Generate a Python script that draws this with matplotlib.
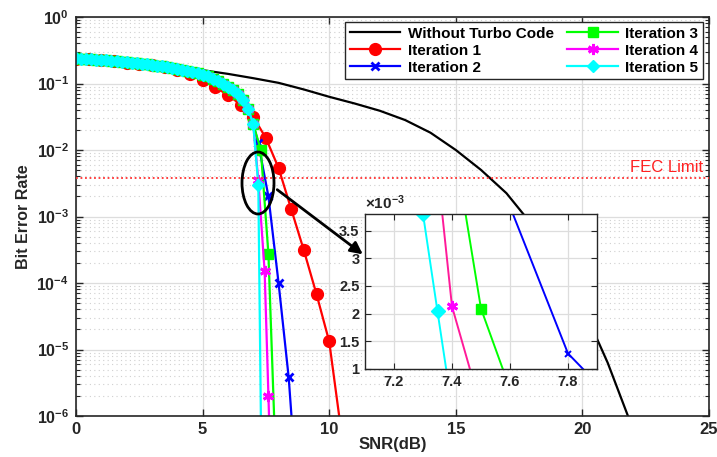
import numpy as np
import matplotlib
matplotlib.use('Agg')
import matplotlib.pyplot as plt
from matplotlib.patches import Ellipse, FancyArrowPatch
from matplotlib.ticker import LogLocator, NullFormatter, FixedLocator

plt.rcParams['font.family'] = ['Liberation Sans', 'DejaVu Sans']
plt.rcParams['font.weight'] = 'bold'
plt.rcParams['mathtext.fontset'] = 'custom'
plt.rcParams['mathtext.rm'] = 'Liberation Sans:bold'
plt.rcParams['mathtext.bf'] = 'Liberation Sans:bold'
plt.rcParams['mathtext.it'] = 'Liberation Sans:bold:italic'

# ---------------- data ----------------
snr_uncoded = [0, 1, 2, 3, 4, 5, 6, 7, 8, 9, 10, 11, 12, 13, 14, 15, 16, 17, 18, 19, 20, 21, 22]
ber_uncoded = [0.235, 0.221, 0.2065, 0.1905, 0.1738, 0.1585, 0.1396, 0.1202, 0.1023, 0.0813,
               0.0631, 0.0501, 0.0389, 0.0282, 0.0182, 0.0100, 5.0e-3, 2.24e-3, 7.6e-4,
               2.0e-4, 4.5e-5, 6.3e-6, 6.3e-7]

snr_it1 = [0, 0.5, 1, 1.5, 2, 2.5, 3, 3.5, 4, 4.5, 5, 5.5, 6, 6.5, 7, 7.5, 8, 8.5, 9, 9.5, 10, 10.5]
ber_it1 = [0.2371, 0.2301, 0.2228, 0.2153, 0.2065, 0.1972, 0.1871, 0.1750, 0.1603, 0.1396,
           0.1122, 0.0871, 0.0676, 0.0479, 0.0316, 0.0151, 5.37e-3, 1.29e-3, 3.09e-4,
           6.76e-5, 1.32e-5, 5.0e-7]

# common low-SNR part shared by iterations 2-5
snr_common = [0.0, 0.2, 0.4, 0.6, 0.8, 1.0, 1.2, 1.4, 1.6, 1.8, 2.0, 2.2, 2.4, 2.6, 2.8, 3.0,
              3.2, 3.4, 3.6, 3.8, 4.0, 4.2, 4.4, 4.6, 4.8, 5.0, 5.2, 5.4, 5.6, 5.8, 6.0, 6.2,
              6.4, 6.6, 6.8, 7.0]
ber_common = [0.2399, 0.2371, 0.2344, 0.2312, 0.2280, 0.2249, 0.2218, 0.2188, 0.2153, 0.2118,
              0.2084, 0.2046, 0.2009, 0.1972, 0.1932, 0.1892, 0.1849, 0.1803, 0.1758, 0.1710,
              0.1660, 0.1607, 0.1552, 0.1493, 0.1429, 0.1361, 0.1288, 0.1175, 0.1084, 0.0989,
              0.0891, 0.0794, 0.0684, 0.0562, 0.0417, 0.0245]

snr_it2_tail = [7.2, 7.6, 8.0, 8.4, 8.8]
ber_it2_tail = [1.26e-2, 2.0e-3, 1.0e-4, 3.8e-6, 3.0e-8]
snr_it3_tail = [7.3, 7.6, 7.9]
ber_it3_tail = [1.0e-2, 2.7e-4, 1.5e-7]
snr_it4_tail = [7.2, 7.45, 7.6, 7.7]
ber_it4_tail = [3.5e-3, 1.5e-4, 2.0e-6, 1.0e-7]
snr_it5_tail = [7.2, 7.33]
ber_it5_tail = [3.0e-3, 1.0e-7]

fec_limit = 3.8e-3

# zoomed inset data
inset_snr_it2 = [7.5, 7.8, 7.9]
inset_ber_it2 = [5.26e-3, 1.28e-3, 0.74e-3]
inset_snr_it3 = [7.4, 7.5, 7.6]
inset_ber_it3 = [5.3e-3, 2.09e-3, 0.64e-3]
inset_snr_it4 = [7.3, 7.4, 7.5]
inset_ber_it4 = [7.1e-3, 2.13e-3, 0.3e-3]
inset_snr_it5 = [7.25, 7.3, 7.35, 7.4]
inset_ber_it5 = [6.5e-3, 3.8e-3, 2.04e-3, 0.3e-3]

labels = ['Without Turbo Code', 'Iteration 1', 'Iteration 2', 'Iteration 3',
          'Iteration 4', 'Iteration 5']
xticks = [0, 5, 10, 15, 20, 25]
inset_xticks = [7.2, 7.4, 7.6, 7.8]
inset_yticks = [1.0, 1.5, 2.0, 2.5, 3.0, 3.5]

# ---------------- figure ----------------
W, H = 717, 457
fig = plt.figure(figsize=(W / 100, H / 100), dpi=100)
ax = fig.add_axes([76 / W, 41 / H, 633 / W, 399 / H])

lw = 1.6
asterisk = (6, 2, 0)
ax.plot(snr_uncoded, ber_uncoded, '-', color='k', lw=lw, label=labels[0])
ax.plot(snr_it1, ber_it1, '-o', color='r', lw=lw, ms=8.5, mfc='r', mec='r', label=labels[1])
ax.plot(snr_common + snr_it2_tail, ber_common + ber_it2_tail, '-x', color='b', lw=lw,
        ms=6, mew=2, label=labels[2])
ax.plot(snr_common + snr_it3_tail, ber_common + ber_it3_tail, '-s', color='#00ff00', lw=lw,
        ms=7, label=labels[3])
ax.plot(snr_common + snr_it4_tail, ber_common + ber_it4_tail, '-', marker=asterisk,
        color='#ff00ff', lw=lw, ms=8, mew=2, label=labels[4])
ax.plot(snr_common + snr_it5_tail, ber_common + ber_it5_tail, '-D', color='#00ffff', lw=lw,
        ms=6.5, label=labels[5])

ax.axhline(fec_limit, color='#ff3030', ls=(0, (1, 1.5)), lw=1.3, zorder=5)
ax.text(24.75, 5.55e-3, 'FEC Limit', color='#ff2020', fontsize=12, fontweight='normal',
        ha='right', va='center')

ax.set_yscale('log')
ax.set_xlim(0, 25)
ax.set_ylim(1e-6, 1)
ax.set_xticks(xticks)
ax.set_xticklabels([str(t) for t in xticks])
yt = [1e-6, 1e-5, 1e-4, 1e-3, 1e-2, 1e-1, 1]
ax.yaxis.set_major_locator(FixedLocator(yt))
ax.set_yticklabels([r'$\mathbf{10^{%d}}$' % int(round(np.log10(v))) for v in yt])
ax.yaxis.set_minor_locator(LogLocator(base=10, subs=np.arange(2, 10), numticks=20))
ax.yaxis.set_minor_formatter(NullFormatter())

ax.grid(True, which='major', color='#dddddd', lw=0.9, ls='-')
ax.grid(True, which='minor', axis='y', color='#d0d0d0', lw=0.8, ls=(0, (1, 3)))
ax.set_axisbelow(True)
ax.tick_params(which='both', direction='in', top=True, right=True, colors='#262626',
               labelcolor='#262626')
ax.tick_params(which='major', length=5, width=1, labelsize=11.5, pad=5)
ax.tick_params(axis='x', which='major', labelsize=12, pad=4)
ax.tick_params(which='minor', length=3, width=0.8)
for s in ax.spines.values():
    s.set_color('#262626')
    s.set_linewidth(1.2)

ax.set_xlabel('SNR(dB)', fontsize=12, fontweight='bold', color='#262626', labelpad=0)
ax.set_ylabel('Bit Error Rate', fontsize=11.5, fontweight='bold', color='#262626', labelpad=4)

leg = ax.legend(ncol=2, loc='upper right', bbox_to_anchor=(0.9905, 0.9875), borderaxespad=0,
                prop={'weight': 'bold', 'size': 11}, fancybox=False,
                edgecolor='#262626', framealpha=1, handlelength=3.3, labelspacing=0.2,
                columnspacing=0.9, handletextpad=0.5, borderpad=0.3)
leg.get_frame().set_linewidth(1.0)

# ellipse + arrow (figure pixel positions)
ell = Ellipse((258 / W, 1 - 183 / H), 32 / W, 62 / H, transform=fig.transFigure,
              fill=False, ec='k', lw=2, zorder=20)
fig.add_artist(ell)
arr = FancyArrowPatch((275 / W, 1 - 188 / H), (365 / W, 1 - 256 / H), transform=fig.transFigure,
                      arrowstyle='-|>', mutation_scale=18, color='k', lw=2, zorder=20)
fig.add_artist(arr)

# ---------------- inset ----------------
axi = fig.add_axes([365 / W, 88 / H, 232 / W, 155 / H])
sc = 1e-3
ilw = 1.4
axi.plot(inset_snr_it2, np.array(inset_ber_it2) / sc, '-x', color='b', lw=ilw, ms=5, mew=1.4)
axi.plot(inset_snr_it3, np.array(inset_ber_it3) / sc, '-s', color='#00ff00', lw=ilw, ms=7)
axi.plot(inset_snr_it4, np.array(inset_ber_it4) / sc, '-', color='#ff1a99', lw=ilw)
axi.plot(inset_snr_it4, np.array(inset_ber_it4) / sc, ' ', marker=asterisk, color='#ff00ff',
         ms=8, mew=2)
axi.plot(inset_snr_it5, np.array(inset_ber_it5) / sc, '-D', color='#00ffff', lw=ilw, ms=7)
axi.set_xlim(7.1, 7.9)
axi.set_ylim(1.0, 3.8)
axi.set_xticks(inset_xticks)
axi.set_xticklabels(['%.1f' % v for v in inset_xticks])
axi.set_yticks(inset_yticks)
axi.set_yticklabels(['%g' % v for v in inset_yticks])
axi.grid(True, color='#dddddd', lw=0.9)
axi.set_axisbelow(True)
axi.tick_params(direction='in', top=True, right=True, length=4, labelsize=10.5,
                colors='#262626', labelcolor='#262626', pad=4)
for s in axi.spines.values():
    s.set_color('#262626')
    s.set_linewidth(1.0)
axi.text(0.0, 1.015, r'$\times\mathbf{10^{-3}}$', transform=axi.transAxes, fontsize=11,
         ha='left', va='bottom', color='#262626')

fig.savefig('out.png', dpi=100)
